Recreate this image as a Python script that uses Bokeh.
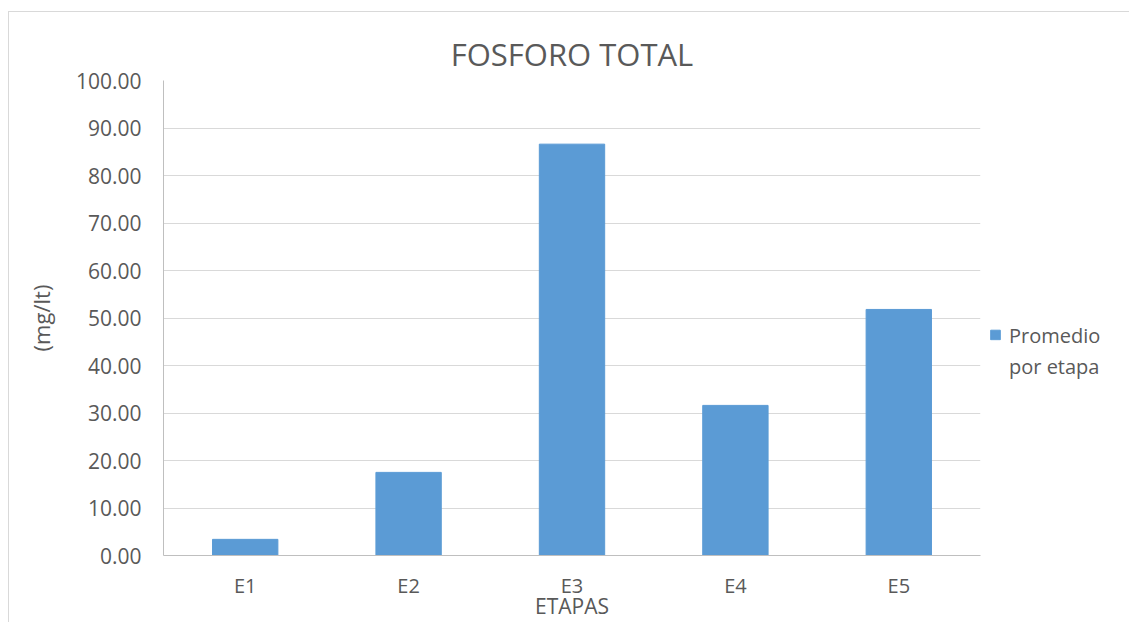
from bokeh.plotting import figure
from bokeh.models import FixedTicker, NumeralTickFormatter, Legend, LegendItem, Range1d, ColumnDataSource
from bokeh.embed import file_html
from bokeh.resources import INLINE

categories = ["E1", "E2", "E3", "E4", "E5"]
values = [3.4, 17.5, 86.6, 31.6, 51.8]
y_ticks = [0, 10, 20, 30, 40, 50, 60, 70, 80, 90, 100]
series_label = ["Promedio", "por etapa"]

FONT = "Open Sans"
TXT = "#595959"
BAR = "#5b9bd5"

src = ColumnDataSource(dict(cat=categories, val=values))

p = figure(
    x_range=categories,
    y_range=Range1d(0, 100),
    frame_width=817,
    frame_height=475,
    output_backend="svg",
    toolbar_location=None,
    min_border_left=163,
    min_border_right=149,
    min_border_top=80,
    min_border_bottom=67,
    title="FOSFORO TOTAL",
)
p.styles = {
    "background": "linear-gradient(#d9d9d9,#d9d9d9) 8px 11px / 100% 1px no-repeat, "
                  "linear-gradient(#d9d9d9,#d9d9d9) 8px 11px / 1px 100% no-repeat, white"
}
p.border_fill_alpha = 0
p.background_fill_color = "white"
p.outline_line_color = None

p.title.align = "center"
p.title.text_font = FONT
p.title.text_font_size = "31px"
p.title.text_font_style = "normal"
p.title.text_color = TXT
p.title.standoff = 11

r = p.vbar(x="cat", top="val", width=0.4, source=src, fill_color=BAR, line_color=BAR)
dummy = p.vbar(x="cat", top="val", width=0.4, source=src, fill_alpha=0, line_alpha=0)

p.yaxis.ticker = FixedTicker(ticks=y_ticks)
p.yaxis.formatter = NumeralTickFormatter(format="0.00")
p.yaxis.axis_label = "(mg/lt)"
p.xaxis.axis_label = "ETAPAS"
for ax in (p.xaxis, p.yaxis):
    ax.major_tick_line_color = None
    ax.minor_tick_line_color = None
    ax.axis_line_color = "#bfbfbf"
    ax.major_label_text_font = FONT
    ax.major_label_text_color = TXT
    ax.axis_label_text_font = FONT
    ax.axis_label_text_font_style = "normal"
    ax.axis_label_text_color = TXT
p.xaxis.major_label_text_font_size = "20px"
p.yaxis.major_label_text_font_size = "21px"
p.xaxis.axis_label_text_font_size = "21px"
p.yaxis.axis_label_text_font_size = "22px"
p.yaxis.major_label_standoff = 16
p.yaxis.axis_label_standoff = 17
p.xaxis.major_label_standoff = 10
p.xaxis.axis_label_standoff = -10

p.xgrid.grid_line_color = None
p.ygrid.grid_line_color = "#d9d9d9"
p.ygrid.grid_line_width = 1

legend = Legend(
    items=[LegendItem(label=series_label[0], renderers=[r]),
           LegendItem(label=series_label[1], renderers=[dummy])],
    location="left",
    title=" ",
    title_text_font_size="1px",
    title_standoff=64,
    padding=0,
    margin=9,
    spacing=4,
    glyph_width=12,
    glyph_height=12,
    label_height=25,
    label_standoff=8,
    label_text_font=FONT,
    label_text_font_size="20px",
    label_text_color=TXT,
    background_fill_alpha=0,
    border_line_color=None,
)
p.add_layout(legend, "right")

open("out.html", "w").write(file_html(p, INLINE))
